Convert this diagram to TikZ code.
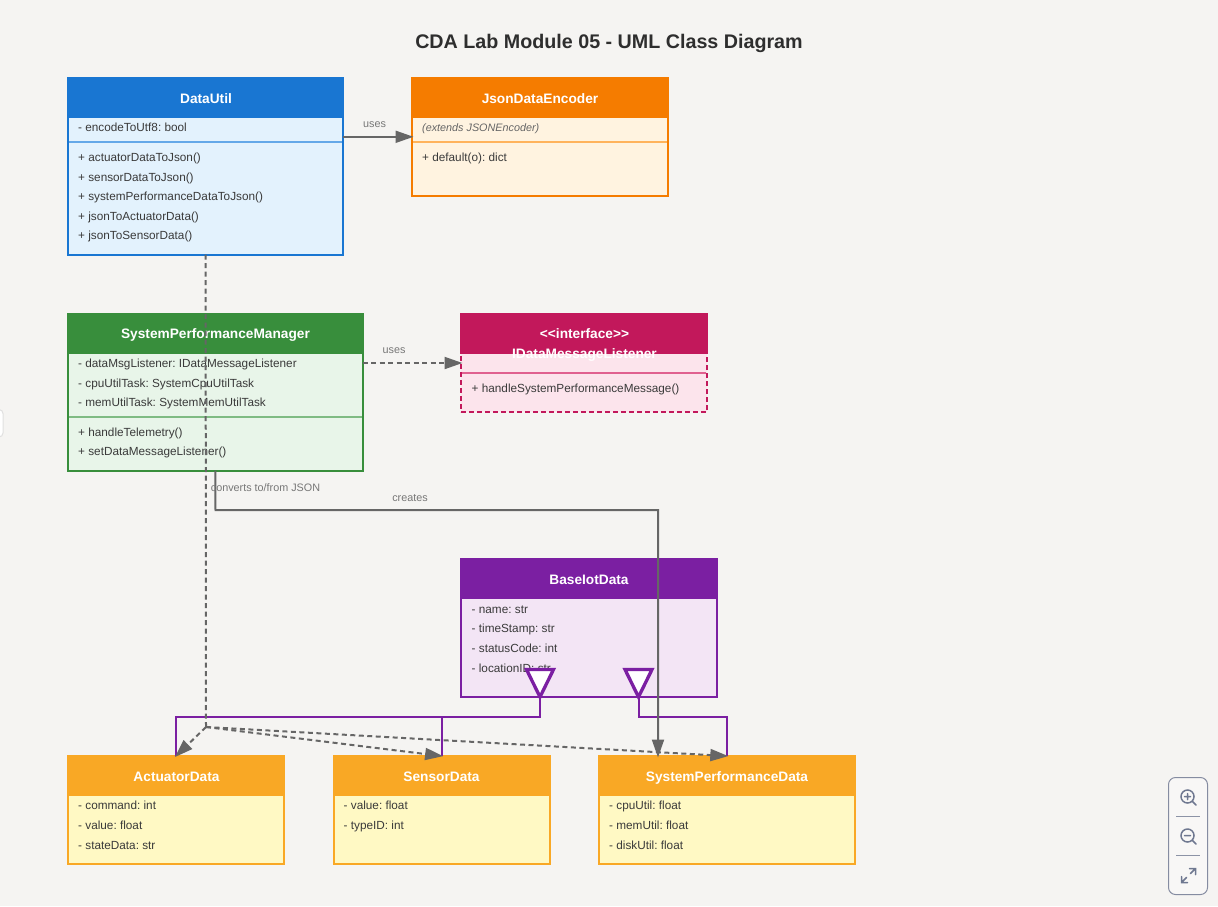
\documentclass[tikz,border=0pt]{standalone}
\usepackage{fontspec}
\setmainfont{Liberation Sans}
\usetikzlibrary{arrows.meta}
\definecolor{bgc}{HTML}{F5F4F2}
\definecolor{edgec}{HTML}{666666}
\definecolor{labc}{HTML}{777777}
\definecolor{txtc}{HTML}{3A3A3A}
\definecolor{bluec}{HTML}{1976D2}\definecolor{blueb}{HTML}{E3F2FD}\definecolor{blues}{HTML}{64A8E8}
\definecolor{orc}{HTML}{F57C00}\definecolor{orb}{HTML}{FFF3E0}\definecolor{ors}{HTML}{FFB35C}
\definecolor{grc}{HTML}{388E3C}\definecolor{grb}{HTML}{E8F5E9}\definecolor{grs}{HTML}{7FBB83}
\definecolor{pic}{HTML}{C2185B}\definecolor{pib}{HTML}{FCE4EC}\definecolor{pis}{HTML}{E0608F}
\definecolor{puc}{HTML}{7B1FA2}\definecolor{pub}{HTML}{F3E5F5}
\definecolor{yec}{HTML}{F9A825}\definecolor{yeb}{HTML}{FFF9C4}
\definecolor{ctlc}{HTML}{6F7890}
\tikzset{
  x=1pt,y=-1pt,
  body/.style={draw=#1,line width=2pt,inner sep=0pt,outer sep=0pt,anchor=north west},
  head/.style={fill=#1,draw=#1,line width=2pt,inner sep=0pt,outer sep=0pt,anchor=north west},
  cls/.style={text=white,font=\fontsize{13.7}{14}\selectfont\bfseries,anchor=base,inner sep=0pt},
  mem/.style={text=txtc,font=\fontsize{11.77}{12}\selectfont,anchor=base west,inner sep=0pt,yshift=0.5pt},
  ext/.style={mem,text=labc!85!black,font=\fontsize{10.8}{11}\selectfont\itshape},
  lab/.style={text=labc,font=\fontsize{10.8}{11}\selectfont,anchor=base,inner sep=0pt},
  sep/.style={line width=1.6pt},
  rel/.style={draw=edgec,line width=2pt,shorten >=-1.5pt,-{Triangle[length=18pt,width=12pt]}},
  reld/.style={rel,dash pattern=on 5pt off 3.5pt},
  dep/.style={draw=edgec,line width=2pt,dash pattern=on 5pt off 3.5pt},
  inh/.style={draw=puc,line width=2pt},
  tri/.style={draw=puc,fill=white,line width=3.3pt,line join=miter},
  ctl/.style={draw=ctlc,line width=1.5pt,line cap=round},
}
\newcommand{\classbox}[9]{% name,x,y,w,h,headh,colour,bodycolour,contents
  \node[body=#7,fill=#8,minimum width=#4pt,minimum height=#5pt] (#1) at (#2,#3) {};
  \node[head=#7,minimum width=#4pt,minimum height=#6pt] (#1h) at (#2,#3) {};
  #9
}
\begin{document}
\frenchspacing
\begin{tikzpicture}
\useasboundingbox (0,0) rectangle (1218,906);
\fill[bgc] (0,0) rectangle (1218,906);
\begin{scope}
\clip (0,0) rectangle (1218,906);
\fill[white,draw=black!12,line width=1pt,rounded corners=4pt] (-12,409.5) rectangle (3,437);
\end{scope}

\node[anchor=base,inner sep=0pt,text=black!82,font=\fontsize{19.7}{20}\selectfont\bfseries] (title) at (609,48) {CDA Lab Module 05 - UML Class Diagram};

% DataUtil
\classbox{du}{68}{78}{275.2}{176.6}{38.5}{bluec}{blueb}{
  \draw[blues,sep] (69,142) -- (342.2,142);
  \node[cls] (dut) at (206,103) {DataUtil};
  \node[mem] (du1) at (78,132) {- encodeToUtf8: bool};
  \node[mem] (du2) at (78,162) {+ actuatorDataToJson()};
  \node[mem] (du3) at (78,181.5) {+ sensorDataToJson()};
  \node[mem] (du4) at (78,201) {+ systemPerformanceDataToJson()};
  \node[mem] (du5) at (78,221) {+ jsonToActuatorData()};
  \node[mem] (du6) at (78,240) {+ jsonToSensorData()};
}
% JsonDataEncoder
\classbox{je}{412}{78}{255.6}{117.6}{38.5}{orc}{orb}{
  \draw[ors,sep] (413,142) -- (666.6,142);
  \node[cls] (jet) at (540,103) {JsonDataEncoder};
  \node[ext] (je1) at (422,132) {(extends JSONEncoder)};
  \node[mem] (je2) at (422,162) {+ default(o): dict};
}
% SystemPerformanceManager
\classbox{sm}{68}{314}{294.7}{156.7}{38.5}{grc}{grb}{
  \draw[grs,sep] (69,417) -- (361.7,417);
  \node[cls] (smt) at (215.5,338) {SystemPerformanceManager};
  \node[mem] (sm1) at (78,368) {- dataMsgListener: IDataMessageListener};
  \node[mem] (sm2) at (78,388) {- cpuUtilTask: SystemCpuUtilTask};
  \node[mem] (sm3) at (78,407) {- memUtilTask: SystemMemUtilTask};
  \node[mem] (sm4) at (78,437) {+ handleTelemetry()};
  \node[mem] (sm5) at (78,456) {+ setDataMessageListener()};
}
% Interface
\node[body=pic,fill=pib,dash pattern=on 5pt off 3pt,minimum width=246pt,minimum height=98pt] (li) at (461,314) {};
\node[head=pic,minimum width=246pt,minimum height=38.5pt] (lih) at (461,314) {};
\draw[pis,sep] (462,373) -- (706,373);
\node[cls] (lit1) at (584.5,338) {<{}<interface>{}>};
\node[cls] (lit2) at (584.5,358) {IDataMessageListener};
\node[mem] (li1) at (471.5,393) {+ handleSystemPerformanceMessage()};
% BaseIotData
\classbox{ba}{461}{559}{255.5}{137.7}{38.5}{puc}{pub}{
  \node[cls] (bat) at (589,584) {BaseIotData};
  \node[mem] (ba1) at (471.5,614) {- name: str};
  \node[mem] (ba2) at (471.5,633) {- timeStamp: str};
  \node[mem] (ba3) at (471.5,653) {- statusCode: int};
  \node[mem] (ba4) at (471.5,673) {- locationID: str};
}
% ActuatorData
\classbox{ac}{68}{756}{216.2}{107.7}{38.5}{yec}{yeb}{
  \node[cls] (act) at (176.5,781) {ActuatorData};
  \node[mem] (ac1) at (78,810) {- command: int};
  \node[mem] (ac2) at (78,830) {- value: float};
  \node[mem] (ac3) at (78,850) {- stateData: str};
}
% SensorData
\classbox{se}{333.5}{756}{216.2}{107.7}{38.5}{yec}{yeb}{
  \node[cls] (set) at (441.5,781) {SensorData};
  \node[mem] (se1) at (343.5,810) {- value: float};
  \node[mem] (se2) at (343.5,830) {- typeID: int};
}
% SystemPerformanceData
\classbox{sd}{599}{756}{255.6}{107.7}{38.5}{yec}{yeb}{
  \node[cls] (sdt) at (727,781) {SystemPerformanceData};
  \node[mem] (sd1) at (609,810) {- cpuUtil: float};
  \node[mem] (sd2) at (609,830) {- memUtil: float};
  \node[mem] (sd3) at (609,850) {- diskUtil: float};
}

% inheritance
\coordinate (apexa) at (540,697);
\coordinate (apexb) at (638.5,697);
\coordinate (busa) at (540,717);
\coordinate (busb) at (638.5,717);
\draw[inh] (apexa) -- (busa) -- (ac.north |- busa) -- (ac.north);
\draw[inh] (apexa) -- (busa) -- (se.north |- busa) -- (se.north);
\draw[inh] (apexb) -- (busb) -- (sd.north |- busb) -- (sd.north);
\draw[tri] (apexa) -- (526.5,669.5) -- (553.5,669.5) -- cycle;
\draw[tri] (apexb) -- (625,669.5) -- (652,669.5) -- cycle;

% creates
\coordinate (cr1) at (215.5,510.2);
\coordinate (cr2) at (658,510.2);
\coordinate (cr3) at (658,756);
\draw[rel] (sm.south) -- (cr1) -- (cr2) -- (cr3);

% uses
\draw[rel] (du.east |- je.west) -- (je.west);
\draw[reld] (sm.east |- li.west) -- (li.west);

% converts
\coordinate (hub) at (206,727);
\draw[dep] (du.south) -- (hub);
\draw[reld] (hub) -- (ac.north);
\draw[reld] (hub) -- (se.north);
\draw[reld] (hub) -- (sd.north);

\node[lab] (l1) at (374.5,127) {uses};
\node[lab] (l2) at (394,353) {uses};
\node[lab] (l3) at (265.5,491) {converts to/from JSON};
\node[lab] (l4) at (410,501) {creates};

% zoom control
\draw[draw=ctlc!85,fill=bgc!70!white,line width=1pt,rounded corners=7pt] (1168.5,777.5) rectangle (1207.5,894.5);
\draw[ctlc!80,line width=1pt] (1176,816.5) -- (1200,816.5) (1176,855.5) -- (1200,855.5);
\draw[ctl] (1187.5,796.5) circle (6.5pt) (1192.4,801.4) -- (1196,805) (1184.5,796.5) -- (1190.5,796.5) (1187.5,793.5) -- (1187.5,799.5);
\draw[ctl] (1187.5,835.5) circle (6.5pt) (1192.4,840.4) -- (1196,844) (1184.5,835.5) -- (1190.5,835.5);
\draw[ctl] (1181.5,882.5) -- (1186.5,877.5) (1190.5,873.5) -- (1195.5,868.5) (1189.5,868.5) -- (1195.5,868.5) -- (1195.5,874.5) (1181.5,876.5) -- (1181.5,882.5) -- (1187.5,882.5);
\end{tikzpicture}
\end{document}
